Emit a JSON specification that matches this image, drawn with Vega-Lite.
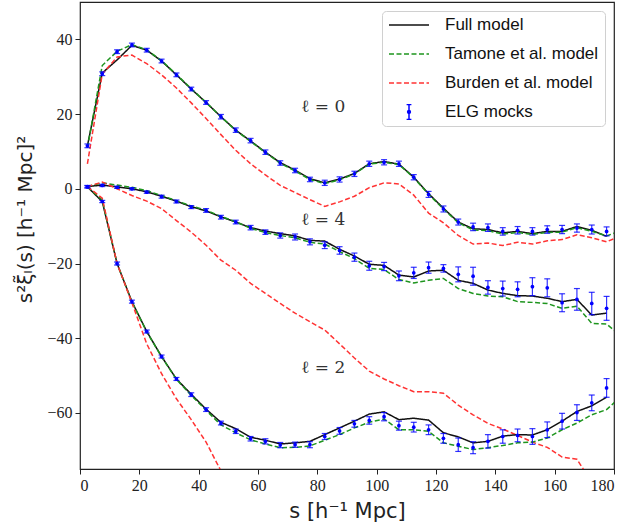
{
  "$schema": "https://vega.github.io/schema/vega-lite/v6.json",
  "width": 534,
  "height": 467,
  "autosize": {"type": "none"},
  "padding": {"left": 80, "top": 2, "right": 14, "bottom": 61},
  "background": "white",
  "config": {
    "view": {"stroke": "#222", "strokeWidth": 1.2},
    "axis": {
      "grid": false, "domain": false, "tickSize": 5, "tickColor": "#222", "tickWidth": 1,
      "labelFont": "Liberation Serif", "labelFontSize": 16, "labelColor": "#222", "labelPadding": 3,
      "titleFont": "DejaVu Sans", "titleFontSize": 20, "titleFontWeight": "normal", "titleColor": "#222"
    }
  },
  "datasets": {
    "xi": [
      {"s":2.5,"ell":0,"mock":11.5,"err":0.5,"full":11.5,"tamone":11.0,"burden":6.7},
      {"s":7.5,"ell":0,"mock":30.8,"err":0.5,"full":31.0,"tamone":33.0,"burden":30.7},
      {"s":12.5,"ell":0,"mock":36.7,"err":0.5,"full":34.5,"tamone":36.8,"burden":35.3},
      {"s":17.5,"ell":0,"mock":38.5,"err":0.5,"full":38.4,"tamone":38.6,"burden":35.8},
      {"s":22.5,"ell":0,"mock":37.1,"err":0.5,"full":37.1,"tamone":37.2,"burden":33.5},
      {"s":27.5,"ell":0,"mock":34.2,"err":0.5,"full":34.2,"tamone":34.3,"burden":30.5},
      {"s":32.5,"ell":0,"mock":30.5,"err":0.5,"full":30.5,"tamone":30.6,"burden":27.0},
      {"s":37.5,"ell":0,"mock":26.7,"err":0.5,"full":26.7,"tamone":26.8,"burden":23.0},
      {"s":42.5,"ell":0,"mock":23.1,"err":0.5,"full":23.1,"tamone":23.1,"burden":18.8},
      {"s":47.5,"ell":0,"mock":19.3,"err":0.6,"full":19.3,"tamone":19.3,"burden":14.5},
      {"s":52.5,"ell":0,"mock":15.7,"err":0.6,"full":15.7,"tamone":15.6,"burden":10.3},
      {"s":57.5,"ell":0,"mock":12.9,"err":0.6,"full":12.8,"tamone":12.7,"burden":6.7},
      {"s":62.5,"ell":0,"mock":9.8,"err":0.6,"full":9.8,"tamone":9.7,"burden":3.7},
      {"s":67.5,"ell":0,"mock":6.9,"err":0.6,"full":7.0,"tamone":6.8,"burden":0.9},
      {"s":72.5,"ell":0,"mock":4.9,"err":0.6,"full":5.0,"tamone":4.8,"burden":-1.0},
      {"s":77.5,"ell":0,"mock":2.5,"err":0.6,"full":2.7,"tamone":2.5,"burden":-2.9},
      {"s":82.5,"ell":0,"mock":1.6,"err":0.7,"full":1.6,"tamone":1.4,"burden":-4.7},
      {"s":87.5,"ell":0,"mock":2.5,"err":0.7,"full":2.6,"tamone":2.4,"burden":-3.5},
      {"s":92.5,"ell":0,"mock":4.0,"err":0.7,"full":4.1,"tamone":4.0,"burden":-2.0},
      {"s":97.5,"ell":0,"mock":6.7,"err":0.7,"full":6.7,"tamone":6.6,"burden":0.3},
      {"s":102.5,"ell":0,"mock":7.1,"err":0.7,"full":7.3,"tamone":7.1,"burden":1.6},
      {"s":107.5,"ell":0,"mock":6.7,"err":0.7,"full":6.6,"tamone":6.5,"burden":1.3},
      {"s":112.5,"ell":0,"mock":3.1,"err":0.7,"full":3.1,"tamone":3.0,"burden":-1.7},
      {"s":117.5,"ell":0,"mock":-1.5,"err":0.8,"full":-1.3,"tamone":-1.5,"burden":-6.5},
      {"s":122.5,"ell":0,"mock":-5.4,"err":0.8,"full":-5.2,"tamone":-5.4,"burden":-9.1},
      {"s":127.5,"ell":0,"mock":-8.9,"err":0.8,"full":-8.9,"tamone":-9.1,"burden":-12.5},
      {"s":132.5,"ell":0,"mock":-10.2,"err":1.0,"full":-10.7,"tamone":-11.0,"burden":-14.8},
      {"s":137.5,"ell":0,"mock":-10.4,"err":1.0,"full":-10.9,"tamone":-11.2,"burden":-14.5},
      {"s":142.5,"ell":0,"mock":-11.4,"err":1.0,"full":-11.8,"tamone":-12.1,"burden":-15.2},
      {"s":147.5,"ell":0,"mock":-11.1,"err":1.0,"full":-11.4,"tamone":-11.7,"burden":-14.3},
      {"s":152.5,"ell":0,"mock":-11.4,"err":1.0,"full":-12.0,"tamone":-12.2,"burden":-14.8},
      {"s":157.5,"ell":0,"mock":-10.9,"err":1.0,"full":-11.4,"tamone":-11.7,"burden":-13.9},
      {"s":162.5,"ell":0,"mock":-10.9,"err":1.1,"full":-11.4,"tamone":-11.6,"burden":-13.6},
      {"s":167.5,"ell":0,"mock":-10.5,"err":1.1,"full":-10.1,"tamone":-10.4,"burden":-12.3},
      {"s":172.5,"ell":0,"mock":-10.9,"err":1.2,"full":-11.1,"tamone":-11.4,"burden":-13.1},
      {"s":177.5,"ell":0,"mock":-11.4,"err":1.2,"full":-12.7,"tamone":-12.6,"burden":-14.2},
      {"s":182.5,"ell":0,"tamone":-11.2,"burden":-12.5},

      {"s":2.5,"ell":4,"mock":0.6,"err":0.3,"full":0.6,"tamone":0.6,"burden":0.6},
      {"s":7.5,"ell":4,"mock":0.9,"err":0.3,"full":1.0,"tamone":1.6,"burden":1.8},
      {"s":12.5,"ell":4,"mock":0.4,"err":0.3,"full":0.5,"tamone":1.0,"burden":0.0},
      {"s":17.5,"ell":4,"mock":0.0,"err":0.3,"full":0.0,"tamone":0.4,"burden":-1.8},
      {"s":22.5,"ell":4,"mock":-0.9,"err":0.3,"full":-0.8,"tamone":-0.5,"burden":-3.3},
      {"s":27.5,"ell":4,"mock":-2.1,"err":0.4,"full":-2.0,"tamone":-1.8,"burden":-5.3},
      {"s":32.5,"ell":4,"mock":-3.4,"err":0.4,"full":-3.3,"tamone":-3.2,"burden":-8.5},
      {"s":37.5,"ell":4,"mock":-4.9,"err":0.4,"full":-4.8,"tamone":-4.6,"burden":-11.6},
      {"s":42.5,"ell":4,"mock":-5.8,"err":0.5,"full":-5.9,"tamone":-5.7,"burden":-15.1},
      {"s":47.5,"ell":4,"mock":-7.6,"err":0.5,"full":-7.5,"tamone":-7.4,"burden":-19.1},
      {"s":52.5,"ell":4,"mock":-8.9,"err":0.5,"full":-8.9,"tamone":-8.8,"burden":-21.8},
      {"s":57.5,"ell":4,"mock":-10.4,"err":0.6,"full":-10.4,"tamone":-10.6,"burden":-25.3},
      {"s":62.5,"ell":4,"mock":-11.6,"err":0.6,"full":-11.3,"tamone":-11.7,"burden":-28.0},
      {"s":67.5,"ell":4,"mock":-12.5,"err":0.7,"full":-12.0,"tamone":-12.5,"burden":-30.7},
      {"s":72.5,"ell":4,"mock":-12.9,"err":0.8,"full":-12.6,"tamone":-13.1,"burden":-33.3},
      {"s":77.5,"ell":4,"mock":-14.2,"err":0.8,"full":-13.8,"tamone":-14.3,"burden":-35.6},
      {"s":82.5,"ell":4,"mock":-15.1,"err":0.9,"full":-14.0,"tamone":-14.8,"burden":-37.8},
      {"s":87.5,"ell":4,"mock":-16.5,"err":1.0,"full":-16.2,"tamone":-16.8,"burden":-41.5},
      {"s":92.5,"ell":4,"mock":-18.3,"err":1.1,"full":-18.0,"tamone":-18.7,"burden":-45.3},
      {"s":97.5,"ell":4,"mock":-20.6,"err":1.2,"full":-20.2,"tamone":-21.3,"burden":-48.8},
      {"s":102.5,"ell":4,"mock":-20.8,"err":1.1,"full":-20.5,"tamone":-21.6,"burden":-50.9},
      {"s":107.5,"ell":4,"mock":-23.3,"err":1.3,"full":-23.1,"tamone":-24.3,"burden":-52.7},
      {"s":112.5,"ell":4,"mock":-22.5,"err":1.5,"full":-23.6,"tamone":-25.2,"burden":-54.3},
      {"s":117.5,"ell":4,"mock":-21.1,"err":1.5,"full":-22.0,"tamone":-24.5,"burden":-54.3},
      {"s":122.5,"ell":4,"mock":-21.3,"err":1.0,"full":-21.8,"tamone":-24.0,"burden":-54.7},
      {"s":127.5,"ell":4,"mock":-22.9,"err":2.0,"full":-24.5,"tamone":-26.7,"burden":-57.9},
      {"s":132.5,"ell":4,"mock":-23.4,"err":2.4,"full":-25.3,"tamone":-28.0,"burden":-60.5},
      {"s":137.5,"ell":4,"mock":-26.4,"err":1.8,"full":-27.1,"tamone":-28.7,"burden":-62.8},
      {"s":142.5,"ell":4,"mock":-26.7,"err":2.0,"full":-28.0,"tamone":-28.9,"burden":-64.3},
      {"s":147.5,"ell":4,"mock":-26.9,"err":2.0,"full":-28.6,"tamone":-30.2,"burden":-66.0},
      {"s":152.5,"ell":4,"mock":-26.2,"err":2.4,"full":-28.7,"tamone":-30.4,"burden":-67.8},
      {"s":157.5,"ell":4,"mock":-26.5,"err":2.4,"full":-29.3,"tamone":-30.7,"burden":-69.2},
      {"s":162.5,"ell":4,"mock":-30.5,"err":2.4,"full":-30.2,"tamone":-32.0,"burden":-71.8},
      {"s":167.5,"ell":4,"mock":-29.6,"err":2.9,"full":-29.6,"tamone":-31.4,"burden":-72.4},
      {"s":172.5,"ell":4,"mock":-30.7,"err":3.0,"full":-33.8,"tamone":-36.0,"burden":-78.5},
      {"s":177.5,"ell":4,"mock":-32.0,"err":3.2,"full":-33.3,"tamone":-36.2,"burden":-82.0},
      {"s":182.5,"ell":4,"tamone":-39.5},

      {"s":2.5,"ell":2,"mock":0.5,"err":0.3,"full":0.5,"tamone":0.5,"burden":0.6},
      {"s":7.5,"ell":2,"mock":-3.4,"err":0.3,"full":-3.4,"tamone":-3.0,"burden":-2.5},
      {"s":12.5,"ell":2,"mock":-20.0,"err":0.4,"full":-20.0,"tamone":-20.0,"burden":-20.0},
      {"s":17.5,"ell":2,"mock":-30.2,"err":0.4,"full":-30.2,"tamone":-30.3,"burden":-30.5},
      {"s":22.5,"ell":2,"mock":-38.2,"err":0.4,"full":-38.2,"tamone":-38.3,"burden":-41.5},
      {"s":27.5,"ell":2,"mock":-44.9,"err":0.4,"full":-44.9,"tamone":-45.0,"burden":-49.5},
      {"s":32.5,"ell":2,"mock":-50.9,"err":0.4,"full":-50.9,"tamone":-51.0,"burden":-56.2},
      {"s":37.5,"ell":2,"mock":-55.1,"err":0.5,"full":-55.0,"tamone":-55.3,"burden":-61.8},
      {"s":42.5,"ell":2,"mock":-59.1,"err":0.5,"full":-59.0,"tamone":-59.3,"burden":-67.8},
      {"s":47.5,"ell":2,"mock":-62.7,"err":0.5,"full":-62.5,"tamone":-63.2,"burden":-75.5},
      {"s":52.5,"ell":2,"mock":-64.9,"err":0.6,"full":-64.2,"tamone":-65.3,"burden":-83.0},
      {"s":57.5,"ell":2,"mock":-66.9,"err":0.6,"full":-66.5,"tamone":-67.2},
      {"s":62.5,"ell":2,"mock":-67.6,"err":0.7,"full":-67.3,"tamone":-68.3},
      {"s":67.5,"ell":2,"mock":-68.6,"err":0.7,"full":-68.3,"tamone":-69.3},
      {"s":72.5,"ell":2,"mock":-68.5,"err":0.7,"full":-68.0,"tamone":-69.2},
      {"s":77.5,"ell":2,"mock":-68.5,"err":0.8,"full":-67.6,"tamone":-68.8},
      {"s":82.5,"ell":2,"mock":-66.3,"err":0.8,"full":-65.8,"tamone":-67.3},
      {"s":87.5,"ell":2,"mock":-64.8,"err":0.9,"full":-64.0,"tamone":-65.8},
      {"s":92.5,"ell":2,"mock":-62.9,"err":0.9,"full":-62.2,"tamone":-64.0},
      {"s":97.5,"ell":2,"mock":-62.0,"err":1.0,"full":-60.3,"tamone":-62.5},
      {"s":102.5,"ell":2,"mock":-61.0,"err":1.1,"full":-59.7,"tamone":-61.6},
      {"s":107.5,"ell":2,"mock":-63.4,"err":1.2,"full":-61.8,"tamone":-64.5},
      {"s":112.5,"ell":2,"mock":-63.8,"err":1.3,"full":-61.4,"tamone":-64.5},
      {"s":117.5,"ell":2,"mock":-64.5,"err":1.3,"full":-61.9,"tamone":-64.9},
      {"s":122.5,"ell":2,"mock":-66.8,"err":1.3,"full":-65.3,"tamone":-68.0},
      {"s":127.5,"ell":2,"mock":-68.5,"err":1.8,"full":-66.4,"tamone":-68.9},
      {"s":132.5,"ell":2,"mock":-69.3,"err":1.6,"full":-68.0,"tamone":-69.8},
      {"s":137.5,"ell":2,"mock":-67.6,"err":1.8,"full":-67.6,"tamone":-69.3},
      {"s":142.5,"ell":2,"mock":-66.3,"err":1.8,"full":-66.2,"tamone":-68.7},
      {"s":147.5,"ell":2,"mock":-66.0,"err":1.7,"full":-65.8,"tamone":-68.0},
      {"s":152.5,"ell":2,"mock":-66.3,"err":2.1,"full":-65.9,"tamone":-67.8},
      {"s":157.5,"ell":2,"mock":-64.5,"err":2.1,"full":-64.5,"tamone":-66.7},
      {"s":162.5,"ell":2,"mock":-62.2,"err":2.1,"full":-62.2,"tamone":-64.5},
      {"s":167.5,"ell":2,"mock":-59.9,"err":2.1,"full":-59.6,"tamone":-62.7},
      {"s":172.5,"ell":2,"mock":-57.3,"err":2.1,"full":-58.1,"tamone":-60.5},
      {"s":177.5,"ell":2,"mock":-53.3,"err":2.5,"full":-55.8,"tamone":-59.1},
      {"s":182.5,"ell":2,"tamone":-55.5}
    ],
    "labels": [
      {"s":82,"v":21.8,"t":"ℓ = 0"},
      {"s":82,"v":-8.3,"t":"ℓ = 4"},
      {"s":82,"v":-48,"t":"ℓ = 2"}
    ]
  },
  "layer": [
    {
      "data": {"name": "xi"},
      "transform": [{"fold": ["full", "tamone", "burden"], "as": ["key", "v"]}],
      "mark": {"type": "line", "clip": true, "strokeWidth": 1.5},
      "encoding": {
        "x": {"field": "s", "type": "quantitative", "title": "s [h⁻¹ Mpc]",
              "scale": {"domain": [0, 180], "nice": false},
              "axis": {"values": [0,20,40,60,80,100,120,140,160,180], "titlePadding": 7, "titleFontSize": 21}},
        "y": {"field": "v", "type": "quantitative", "title": "s²ξ̃ₗ(s)  [h⁻¹ Mpc]²",
              "scale": {"domain": [-75, 50], "nice": false, "zero": false},
              "axis": {"values": [-60,-40,-20,0,20,40], "titleX": -55, "titleY": 217, "titleBaseline": "middle", "titleAlign": "center", "titleAngle": -90, "titleFontSize": 20}},
        "color": {"field": "key", "type": "nominal",
          "scale": {"domain": ["full", "tamone", "burden", "mocks"], "range": ["#111111", "#1e951e", "#ff3333", "#0000ff"]},
          "legend": {
            "title": null, "orient": "top-right", "offset": 9, "padding": 6,
            "strokeColor": "#d0d0d0", "fillColor": "white", "cornerRadius": 4,
            "symbolType": "stroke", "symbolSize": 1600, "symbolStrokeWidth": 1.5,
            "labelFont": "Liberation Sans", "labelFontSize": 17, "labelColor": "#111", "labelOffset": 15,
            "clipHeight": 16, "rowPadding": 12,
            "labelExpr": "datum.label==='full' ? 'Full model' : datum.label==='tamone' ? 'Tamone et al. model' : datum.label==='burden' ? 'Burden et al. model' : 'ELG mocks'",
            "encode": {"symbols": {"update": {
              "shape": {"signal": "datum.value==='mocks' ? 'M0,-0.37V0.37M-0.12,-0.37H0.12M-0.12,0.37H0.12M0.07,0A0.07,0.07,0,1,1,-0.07,0A0.07,0.07,0,1,1,0.07,0' : 'stroke'"},
              "strokeDash": {"signal": "datum.value==='tamone'||datum.value==='burden' ? [5,2.5] : []"},
              "fill": {"signal": "datum.value==='mocks' ? '#0000ff' : 'transparent'"},
              "stroke": {"signal": "scale('color', datum.value)"},
              "opacity": {"value": 1}
            }}}
          }},
        "strokeDash": {"field": "key", "type": "nominal",
          "scale": {"domain": ["full", "tamone", "burden"], "range": [[1, 0], [5, 2.5], [5, 2.5]]},
          "legend": null},
        "detail": {"field": "ell"}
      }
    },
    {
      "data": {"name": "xi"},
      "transform": [{"filter": "isValid(datum.mock)"}],
      "mark": {"type": "errorbar", "ticks": {"size": 6}, "thickness": 1.2, "opacity": 0.8},
      "encoding": {
        "x": {"field": "s", "type": "quantitative", "title": "s [h⁻¹ Mpc]"},
        "y": {"field": "mock", "type": "quantitative", "title": "s²ξ̃ₗ(s)  [h⁻¹ Mpc]²"},
        "yError": {"field": "err"},
        "color": {"datum": "mocks"}
      }
    },
    {
      "data": {"name": "xi"},
      "transform": [{"filter": "isValid(datum.mock)"}],
      "mark": {"type": "point", "filled": true, "size": 14, "opacity": 1},
      "encoding": {
        "x": {"field": "s", "type": "quantitative", "title": "s [h⁻¹ Mpc]"},
        "y": {"field": "mock", "type": "quantitative", "title": "s²ξ̃ₗ(s)  [h⁻¹ Mpc]²"},
        "color": {"datum": "mocks"}
      }
    },
    {
      "data": {"name": "labels"},
      "mark": {"type": "text", "font": "DejaVu Serif", "fontSize": 17, "color": "#333", "align": "center", "baseline": "middle"},
      "encoding": {
        "x": {"field": "s", "type": "quantitative"},
        "y": {"field": "v", "type": "quantitative"},
        "text": {"field": "t"}
      }
    }
  ]
}
